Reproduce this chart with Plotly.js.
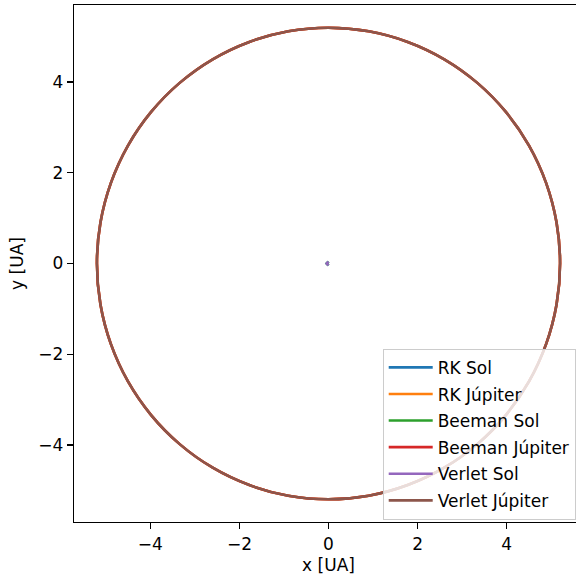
<!DOCTYPE html>
<html>
<head>
<meta charset="utf-8">
<script src="https://cdn.plot.ly/plotly-3.0.1.min.js"></script>
<style>
html, body { margin: 0; padding: 0; overflow: hidden; background: #fff; }
#chart { width: 584px; height: 577px; }
</style>
</head>
<body>
<div id="chart"></div>
<script>
// Jupiter orbit points (AU)
const jupX = [5.2, 5.121, 4.886, 4.503, 3.983, 3.342, 2.6, 1.778, 0.903, 0.0,
  -0.903, -1.778, -2.6, -3.342, -3.983, -4.503, -4.886, -5.121, -5.2,
  -5.121, -4.886, -4.503, -3.983, -3.342, -2.6, -1.778, -0.903, 0.0,
  0.903, 1.778, 2.6, 3.342, 3.983, 4.503, 4.886, 5.121, 5.2];
const jupY = [0.0, 0.903, 1.778, 2.6, 3.342, 3.983, 4.503, 4.886, 5.121, 5.2,
  5.121, 4.886, 4.503, 3.983, 3.342, 2.6, 1.778, 0.903, 0.0,
  -0.903, -1.778, -2.6, -3.342, -3.983, -4.503, -4.886, -5.121, -5.2,
  -5.121, -4.886, -4.503, -3.983, -3.342, -2.6, -1.778, -0.903, 0.0];
// Sun: tiny wobble around the origin
const solX = [0.0, -0.02, -0.04, -0.02, 0.0];
const solY = [0.0, 0.02, 0.0, -0.02, 0.0];

const seriesNames = ["RK Sol", "RK Júpiter", "Beeman Sol", "Beeman Júpiter", "Verlet Sol", "Verlet Júpiter"];
const seriesColors = ["#1f77b4", "#ff7f0e", "#2ca02c", "#d62728", "#9467bd", "#8c564b"];
const tickVals = [-4, -2, 0, 2, 4];

const traces = seriesNames.map((name, i) => {
  const isSun = i % 2 === 0;
  return {
    x: isSun ? solX : jupX,
    y: isSun ? solY : jupY,
    type: "scatter",
    mode: "lines",
    name: name,
    legendgroup: "g" + i,
    line: { color: seriesColors[i], width: 2.6, shape: isSun ? "linear" : "spline" }
  };
});

const F = { family: "DejaVu Sans", size: 17, color: "#000" };

const axisCommon = {
  showgrid: false,
  zeroline: false,
  showline: true,
  linecolor: "#000",
  linewidth: 1.3,
  mirror: true,
  ticks: "outside",
  ticklen: 6,
  tickwidth: 1.3,
  tickcolor: "#000",
  tickvals: tickVals,
  tickfont: F
};

const layout = {
  width: 584,
  height: 577,
  margin: { l: 74, r: 1, t: 5, b: 55 },
  paper_bgcolor: "#fff",
  plot_bgcolor: "#fff",
  font: F,
  xaxis: Object.assign({}, axisCommon, {
    range: [-5.715, 5.715],
    title: { text: "x [UA]", font: F, standoff: 6 }
  }),
  yaxis: Object.assign({}, axisCommon, {
    range: [-5.70, 5.70],
    title: { text: "y [UA]", font: F, standoff: 10 }
  }),
  showlegend: true,
  legend: {
    x: 0.6065, y: 0.335, xanchor: "left", yanchor: "top",
    bgcolor: "rgba(255,255,255,0.8)",
    bordercolor: "#cccccc",
    borderwidth: 1,
    font: F,
    itemwidth: 44,
    traceorder: "grouped",
    tracegroupgap: 1.5
  }
};

Plotly.newPlot("chart", traces, layout, { displayModeBar: false, staticPlot: true });
</script>
</body>
</html>
